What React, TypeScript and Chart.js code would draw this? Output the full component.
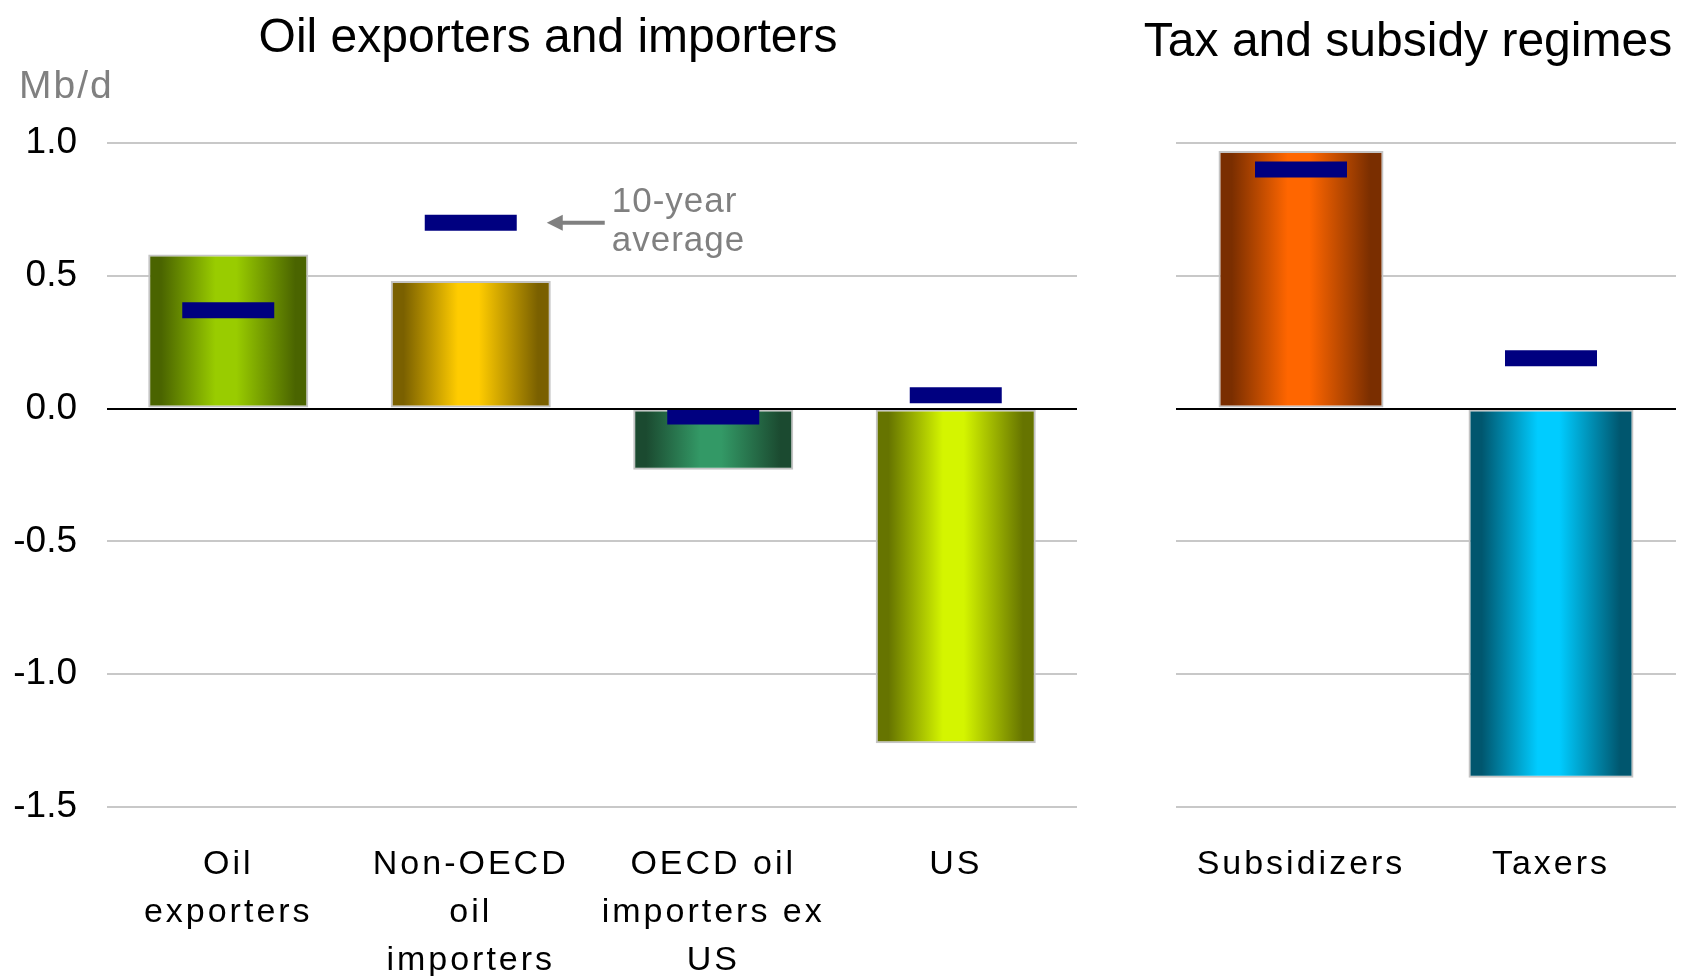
import React, { useEffect, useRef } from "react";
import { Chart, registerables } from "chart.js";

Chart.register(...registerables);

const FONT = '"Liberation Sans", Arial, Helvetica, sans-serif';

// ---- data ----
const leftTitle = "Oil exporters and importers";
const rightTitle = "Tax and subsidy regimes";
const unitLabel = "Mb/d";
const annotationLines = ["10-year", "average"];

const leftCategories = [
  ["Oil", "exporters"],
  ["Non-OECD", "oil", "importers"],
  ["OECD oil", "importers ex", "US"],
  ["US"],
];
const leftValues = [0.58, 0.48, -0.23, -1.26];
const leftAverages = [0.37, 0.7, -0.03, 0.05];

const rightCategories = [["Subsidizers"], ["Taxers"]];
const rightValues = [0.97, -1.39];
const rightAverages = [0.9, 0.19];

const yMin = -1.5;
const yMax = 1.0;
const yStep = 0.5;
const annotatedIndex = 1;

// ---- styles ----
const leftShades = [
  ["#4a6400", "#99cc00"],
  ["#7a6000", "#ffcc00"],
  ["#1b4a30", "#339966"],
  ["#667400", "#d4f500"],
];
const rightShades = [
  ["#7a2e00", "#ff6600"],
  ["#00566e", "#00ccff"],
];
const CAT_PCT = 0.66;
const MARKER_COLOR = "#000080";
const GRAY_TEXT = "#808080";

function gradientFor(shades: string[][]) {
  return (c: any) => {
    if (c.type !== "data") return shades[0][1];
    const chart = c.chart;
    const x = chart.scales.x;
    const pair = shades[c.dataIndex] || shades[0];
    if (!x || !x.width) return pair[1];
    const n = chart.data.labels.length;
    const center = x.getPixelForValue(c.dataIndex);
    const w = (x.width / n) * CAT_PCT;
    const g = chart.ctx.createLinearGradient(center - w / 2, 0, center + w / 2, 0);
    g.addColorStop(0, pair[0]);
    g.addColorStop(0.08, pair[0]);
    g.addColorStop(0.42, pair[1]);
    g.addColorStop(0.55, pair[1]);
    g.addColorStop(0.92, pair[0]);
    g.addColorStop(1, pair[0]);
    return g;
  };
}

function overlayPlugin(kind: "left" | "right") {
  return {
    id: "overlay_" + kind,
    afterDatasetsDraw(chart: any) {
      const ctx = chart.ctx;
      const y = chart.scales.y;
      const area = chart.chartArea;
      const y0 = Math.round(y.getPixelForValue(0));
      ctx.save();
      ctx.strokeStyle = "#000";
      ctx.lineWidth = 2;
      ctx.beginPath();
      ctx.moveTo(area.left, y0);
      ctx.lineTo(area.right, y0);
      ctx.stroke();
      ctx.restore();
      // x tick labels are drawn next (z = 1) with wider letter spacing
      (ctx as any).letterSpacing = "3px";
    },
    afterDraw(chart: any) {
      const ctx = chart.ctx;
      (ctx as any).letterSpacing = "0px";
      if (kind !== "left") return;
      const area = chart.chartArea;
      const x = chart.scales.x;
      const y = chart.scales.y;
      ctx.save();
      // panel title
      ctx.font = `48px ${FONT}`;
      ctx.fillStyle = "#000";
      ctx.textAlign = "center";
      ctx.textBaseline = "middle";
      ctx.fillText(leftTitle, chart.width / 2 - 2, 38.8);

      // unit label
      (ctx as any).letterSpacing = "2px";
      ctx.font = `39px ${FONT}`;
      ctx.fillStyle = GRAY_TEXT;
      ctx.textAlign = "left";
      ctx.fillText(unitLabel, 19, area.top - 56);

      // annotation arrow + text
      const cx = x.getPixelForValue(annotatedIndex);
      const yy = y.getPixelForValue(leftAverages[annotatedIndex]);
      const tip = cx + 76;
      const tail = tip + 58;
      ctx.strokeStyle = GRAY_TEXT;
      ctx.fillStyle = GRAY_TEXT;
      ctx.lineWidth = 4;
      ctx.beginPath();
      ctx.moveTo(tip + 12, yy);
      ctx.lineTo(tail, yy);
      ctx.stroke();
      ctx.beginPath();
      ctx.moveTo(tip, yy);
      ctx.lineTo(tip + 16, yy - 8);
      ctx.lineTo(tip + 16, yy + 8);
      ctx.closePath();
      ctx.fill();
      (ctx as any).letterSpacing = "1px";
      ctx.font = `35px ${FONT}`;
      ctx.fillText(annotationLines[0], tail + 7, yy - 20);
      ctx.fillText(annotationLines[1], tail + 7, yy + 19);
      ctx.restore();
    },
  };
}

function makeConfig(
  kind: "left" | "right",
  labels: any[],
  values: number[],
  averages: number[],
  shades: string[][],
  title: string
): any {
  const isLeft = kind === "left";
  return {
    type: "bar",
    data: {
      labels,
      datasets: [
        {
          type: "line",
          label: "10-year average",
          data: averages,
          showLine: false,
          pointStyle: "line",
          pointRadius: 46,
          pointHoverRadius: 46,
          pointBorderWidth: 16,
          pointHoverBorderWidth: 16,
          pointBorderColor: MARKER_COLOR,
          pointBackgroundColor: MARKER_COLOR,
          borderColor: MARKER_COLOR,
          order: 0,
        },
        {
          type: "bar",
          label: "Change",
          data: values,
          backgroundColor: gradientFor(shades),
          borderColor: "#c4c4c4",
          borderWidth: 2,
          borderSkipped: false,
          barPercentage: 1,
          categoryPercentage: CAT_PCT,
          order: 1,
        },
      ],
    },
    options: {
      responsive: false,
      animation: false,
      events: [],
      layout: {
        autoPadding: false,
        padding: { left: 0, right: isLeft ? 23 : 6, top: isLeft ? 143 : 0, bottom: 0 },
      },
      plugins: {
        legend: { display: false },
        tooltip: { enabled: false },
        title: {
          display: !isLeft,
          text: title,
          color: "#000",
          font: { family: FONT, size: 48, weight: "normal", lineHeight: 1.2 },
          padding: { top: 14, bottom: 71.4 },
        },
      },
      scales: {
        x: {
          offset: true,
          grid: { display: false },
          border: { display: false },
          ticks: {
            color: "#000",
            font: { family: FONT, size: 34, lineHeight: 1.41 },
            padding: 26,
            maxRotation: 0,
            minRotation: 0,
            autoSkip: false,
            z: 1,
          },
          afterFit: (s: any) => {
            s.height = 169;
            s.paddingLeft = 0;
            s.paddingRight = 0;
          },
        },
        y: {
          min: yMin,
          max: yMax,
          grid: { color: "#c8c8c8", lineWidth: 2, drawTicks: false },
          border: { display: false },
          ticks: {
            display: isLeft,
            stepSize: yStep,
            color: "#000",
            font: { family: FONT, size: 37 },
            padding: 30,
            callback: (v: any) => Number(v).toFixed(1),
          },
          afterFit: (s: any) => {
            s.width = isLeft ? 107 : 36;
          },
        },
      },
    },
    plugins: [overlayPlugin(kind)],
  };
}

export default function App() {
  const leftRef = useRef<HTMLCanvasElement | null>(null);
  const rightRef = useRef<HTMLCanvasElement | null>(null);

  useEffect(() => {
    const charts: Chart[] = [];
    if (leftRef.current) {
      charts.push(
        new Chart(
          leftRef.current,
          makeConfig("left", leftCategories, leftValues, leftAverages, leftShades, leftTitle)
        )
      );
    }
    if (rightRef.current) {
      charts.push(
        new Chart(
          rightRef.current,
          makeConfig("right", rightCategories, rightValues, rightAverages, rightShades, rightTitle)
        )
      );
    }
    return () => {
      charts.forEach((c) => c.destroy());
    };
  }, []);

  return (
    <div
      style={{
        position: "fixed",
        left: 0,
        top: 0,
        width: 1682,
        height: 976,
        background: "#fff",
        overflow: "hidden",
      }}
    >
      <canvas
        ref={leftRef}
        width={1100}
        height={976}
        style={{ position: "absolute", left: 0, top: 0, width: 1100, height: 976 }}
      />
      <canvas
        ref={rightRef}
        width={542}
        height={976}
        style={{ position: "absolute", left: 1140, top: 0, width: 542, height: 976 }}
      />
    </div>
  );
}
